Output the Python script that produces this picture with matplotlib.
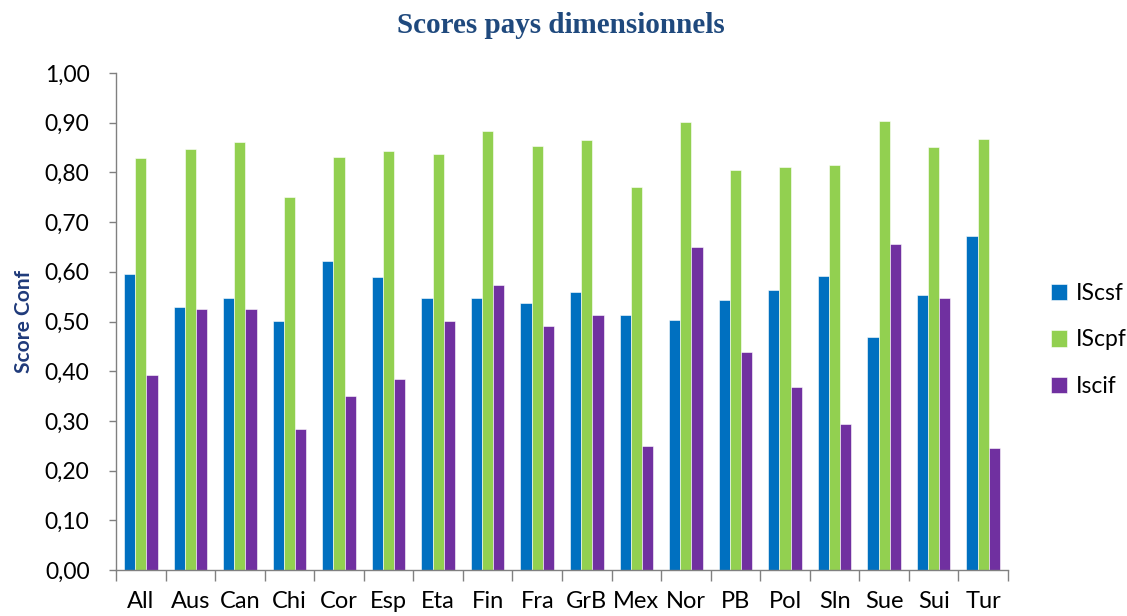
import numpy as np
import matplotlib.pyplot as plt

countries = ["All", "Aus", "Can", "Chi", "Cor", "Esp", "Eta", "Fin", "Fra",
             "GrB", "Mex", "Nor", "PB", "Pol", "Sln", "Sue", "Sui", "Tur"]
iscsf = [0.596, 0.529, 0.548, 0.502, 0.621, 0.589, 0.548, 0.547, 0.537,
         0.559, 0.514, 0.503, 0.543, 0.563, 0.592, 0.468, 0.553, 0.672]
iscpf = [0.828, 0.848, 0.862, 0.750, 0.831, 0.844, 0.838, 0.883, 0.853,
         0.865, 0.771, 0.901, 0.804, 0.810, 0.814, 0.904, 0.852, 0.867]
iscif = [0.392, 0.525, 0.525, 0.283, 0.350, 0.384, 0.502, 0.573, 0.491,
         0.514, 0.249, 0.650, 0.438, 0.369, 0.294, 0.656, 0.548, 0.245]
yticks = np.arange(0, 1.01, 0.1)

plt.rcParams["font.family"] = ["Lato", "DejaVu Sans"]

fig = plt.figure(figsize=(11.27, 6.16), dpi=100)
ax = fig.add_axes([116 / 1127, 46 / 616, 892 / 1127, 497 / 616])

x = np.arange(len(countries))
width = 0.225
kw = dict(edgecolor="white", linewidth=0.4)
ax.bar(x - width, iscsf, width, label="IScsf", color="#0070C0", **kw)
ax.bar(x, iscpf, width, label="IScpf", color="#92D050", **kw)
ax.bar(x + width, iscif, width, label="Iscif", color="#7030A0", **kw)

ax.set_xlim(-0.5, len(countries) - 0.5)
ax.set_ylim(0, 1.0)
ax.set_yticks(yticks)
ax.set_yticklabels([f"{v:.2f}".replace(".", ",") for v in yticks], fontsize=16.5)
ax.tick_params(axis="y", length=5, width=1, color="#808080", pad=14)

# category labels centred, tick marks on the boundaries
ax.set_xticks(x)
ax.set_xticklabels(countries, fontsize=17)
ax.tick_params(axis="x", which="major", length=0, pad=15)
ax.set_xticks(np.arange(-0.5, len(countries)), minor=True)
ax.tick_params(axis="x", which="minor", length=8, width=1, color="#808080")

for s in ["top", "right"]:
    ax.spines[s].set_visible(False)
for s in ["left", "bottom"]:
    ax.spines[s].set_color("#808080")
    ax.spines[s].set_linewidth(1)

ax.set_ylabel("Score Conf", fontsize=15, fontweight="bold", color="#1F3A7A", labelpad=8)
fig.text(0.498, 0.958, "Scores pays dimensionnels", ha="center", va="center",
         fontsize=21, fontweight="bold", color="#1F497D", family="Liberation Serif")

fig.legend(loc="center left", bbox_to_anchor=(1030 / 1127, 1 - 340 / 616), frameon=False,
           fontsize=16.5, handlelength=0.7, handleheight=0.7, handletextpad=0.4,
           labelspacing=1.1)

plt.savefig("out.png", dpi=100)
plt.close()
